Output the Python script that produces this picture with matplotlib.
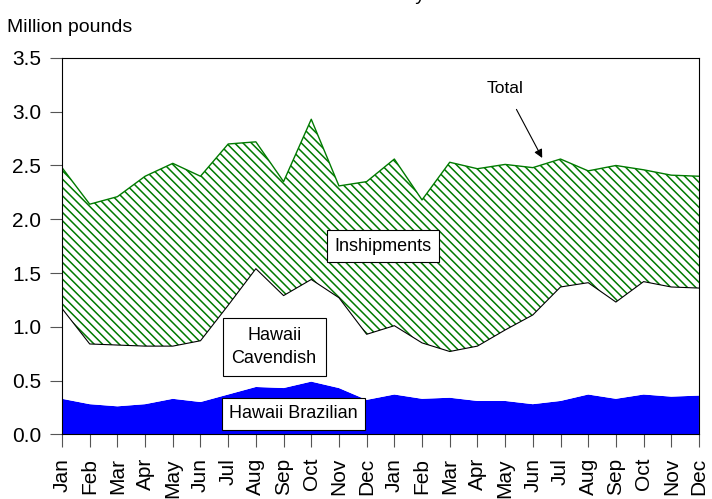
import matplotlib
matplotlib.use("Agg")
import matplotlib.pyplot as plt
import numpy as np

plt.rcParams['font.family'] = ['Liberation Sans', 'DejaVu Sans']
plt.rcParams['hatch.linewidth'] = 1.1

months = ['Jan', 'Feb', 'Mar', 'Apr', 'May', 'Jun', 'Jul', 'Aug', 'Sep', 'Oct', 'Nov', 'Dec'] * 2

# million pounds, two years of monthly supply
brazilian = [0.33, 0.28, 0.26, 0.28, 0.33, 0.30, 0.37, 0.44, 0.43, 0.49, 0.43, 0.32,
             0.37, 0.33, 0.34, 0.31, 0.31, 0.28, 0.31, 0.37, 0.33, 0.37, 0.35, 0.36]
cavendish = [0.84, 0.56, 0.57, 0.54, 0.49, 0.57, 0.83, 1.10, 0.86, 0.95, 0.84, 0.61,
             0.64, 0.52, 0.43, 0.51, 0.66, 0.83, 1.06, 1.04, 0.90, 1.05, 1.02, 1.00]
inshipments = [1.31, 1.30, 1.38, 1.58, 1.70, 1.53, 1.50, 1.18, 1.06, 1.49, 1.04, 1.42,
               1.55, 1.33, 1.76, 1.65, 1.54, 1.37, 1.19, 1.04, 1.27, 1.04, 1.04, 1.04]

x = np.arange(len(months))
b = np.array(brazilian)
c = b + np.array(cavendish)
t = c + np.array(inshipments)

fig = plt.figure(figsize=(7.12, 4.99), dpi=100)
ax = fig.add_axes([0.0871, 0.1297, 0.8946, 0.7541])

ax.fill_between(x, 0, b, facecolor='#0000ff', edgecolor='none', linewidth=0)
ax.fill_between(x, b, c, facecolor='white', edgecolor='none', linewidth=0)
ax.fill_between(x, c, t, facecolor='white', edgecolor='#007a00', hatch='\\\\\\\\', linewidth=0)
ax.plot(x, c, color='black', linewidth=0.8)
ax.plot(x, t, color='#007a00', linewidth=1.0)

ax.set_xlim(0, len(months) - 1)
ax.set_ylim(0, 3.5)
yt = np.arange(0, 3.51, 0.5)
ax.set_yticks(yt)
ax.set_yticklabels(['%.1f' % v for v in yt], fontsize=15)
ax.set_xticks(x)
ax.set_xticklabels(months, rotation=90, fontsize=15)
ax.tick_params(axis='both', direction='out', length=9, width=0.8, color='#555555')
ax.tick_params(axis='x', pad=8)
ax.tick_params(axis='y', pad=6)
for s in ax.spines.values():
    s.set_linewidth(0.8)

box = dict(boxstyle='square,pad=0.4', facecolor='white', edgecolor='black', linewidth=0.8)
ax.text(11.6, 1.75, 'Inshipments', ha='center', va='center', fontsize=13, bbox=box)
ax.text(7.66, 0.81, 'Hawaii\nCavendish', ha='center', va='center', fontsize=13, linespacing=1.45,
        bbox=dict(boxstyle='square,pad=0.5', facecolor='white', edgecolor='black', linewidth=0.8))
ax.text(8.37, 0.19, 'Hawaii Brazilian', ha='center', va='center', fontsize=13, bbox=box)
ax.annotate('Total', xy=(17.34, 2.57), xytext=(16.0, 3.22), ha='center', va='center', fontsize=12.5,
            arrowprops=dict(arrowstyle='-|>', color='black', linewidth=0.8, shrinkA=9, shrinkB=0))

fig.text(0.01, 0.945, 'Million pounds', fontsize=14, ha='left', va='center')
# title sits above the canvas; only the tail of its last letter shows, as in the source
fig.text(0.597, 1.0, 'Hawaii banana availability', fontsize=14, ha='right', va='baseline')

fig.savefig('out.png', dpi=100)
